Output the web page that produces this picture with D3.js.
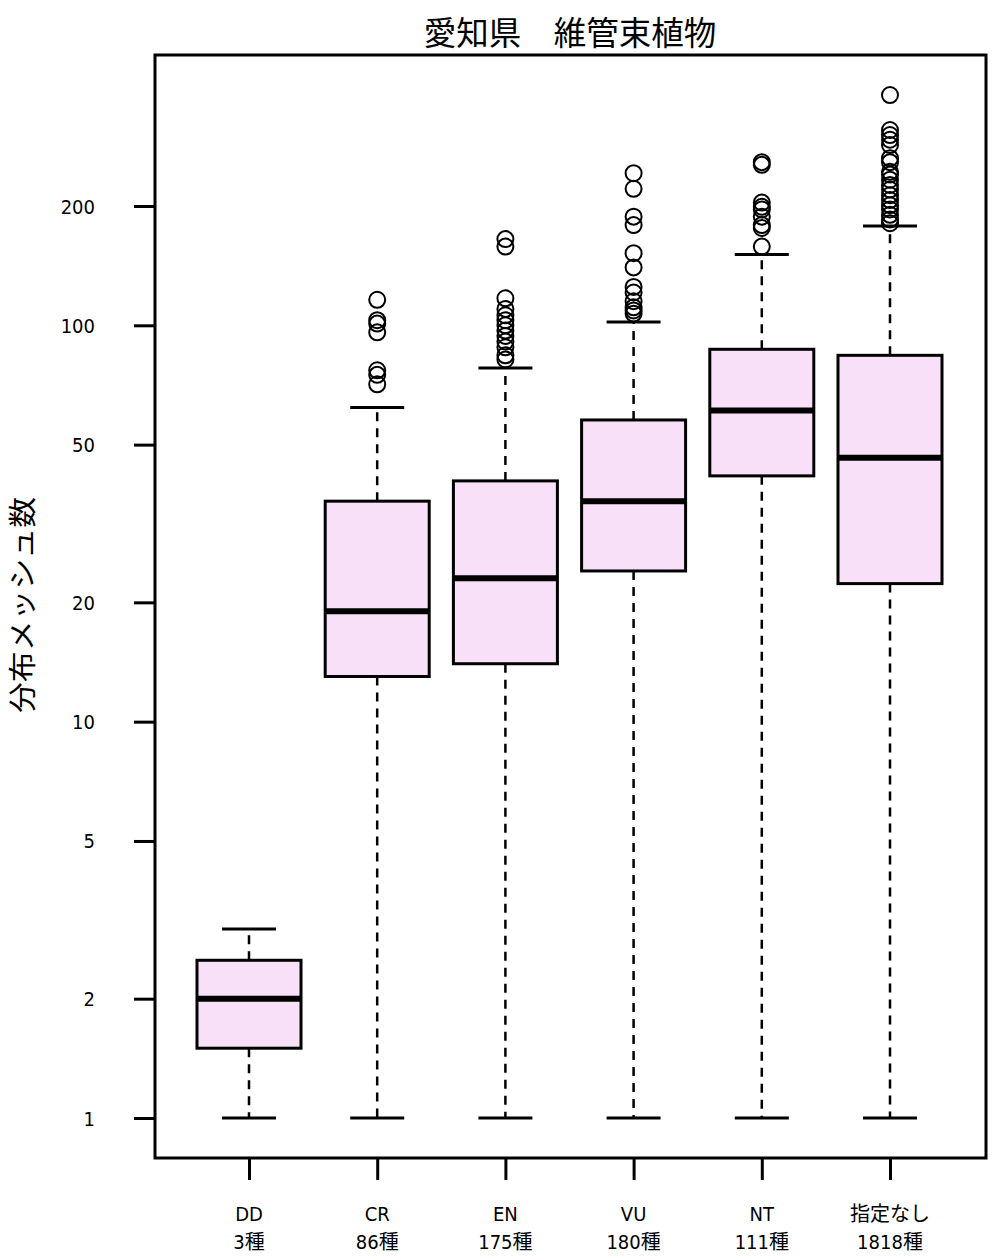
<!DOCTYPE html>
<html><head><meta charset="utf-8">
<script src="https://cdn.jsdelivr.net/npm/d3@7"></script>
<style>
body{margin:0;background:#fff;}
svg{display:block;}
text{fill:#000;}
</style></head>
<body>
<svg id="chart" width="1002" height="1260"></svg>
<script>
const title = "愛知県　維管束植物";
const yLabel = "分布メッシュ数";
const categories = ["DD","CR","EN","VU","NT","指定なし"];
const speciesCounts = ["3種","86種","175種","180種","111種","1818種"];
const whiskerLow = [1, 1, 1, 1, 1, 1];
const q1 = [1.5, 13, 14, 24, 41.7, 22.3];
const medians = [2, 19, 23, 36, 61, 46.3];
const q3 = [2.5, 36, 40.5, 57.7, 87, 84];
const whiskerHigh = [3, 62, 78, 102, 151, 178];
const outliersDD = [];
const outliersCR = [116, 103, 101, 96, 77, 75, 71];
const outliersEN = [165, 158, 117, 110, 106, 103, 100, 97, 94, 91, 88, 84, 82];
const outliersVU = [242, 221, 188, 179, 152, 140, 125, 121, 115, 111, 109, 107];
const outliersNT = [258, 254, 204, 199, 196, 188, 179, 176, 158];
const outliersNone = [381, 311, 302, 294, 285, 264, 258, 244, 240, 233, 226, 220, 213, 207, 201, 196, 190, 185, 181];
const outliers = [outliersDD, outliersCR, outliersEN, outliersVU, outliersNT, outliersNone];
const yTicks = [1, 2, 5, 10, 20, 50, 100, 200];

const svg = d3.select("#chart");
const frame = {left:155, right:986, top:55, bottom:1158};

const x = d3.scalePoint().domain(categories).range([249, 890]);
const y = d3.scaleLog().domain([1, 200]).range([1118, 206]);
const boxW = 104, capW = 54;
const numFont = "'DejaVu Sans Condensed','Noto Sans CJK JP',sans-serif";
const cjkFont = "'Noto Sans CJK JP',sans-serif";

// boxes
categories.forEach((c, i) => {
  const cx = x(c);
  const g = svg.append("g");
  g.append("line").attr("x1", cx).attr("x2", cx).attr("y1", y(q1[i])).attr("y2", y(whiskerLow[i]))
    .attr("stroke", "#000").attr("stroke-width", 2.5).attr("stroke-dasharray", "9,7");
  g.append("line").attr("x1", cx).attr("x2", cx).attr("y1", y(q3[i])).attr("y2", y(whiskerHigh[i]))
    .attr("stroke", "#000").attr("stroke-width", 2.5).attr("stroke-dasharray", "9,7");
  [whiskerLow[i], whiskerHigh[i]].forEach(v => {
    g.append("line").attr("x1", cx - capW/2).attr("x2", cx + capW/2).attr("y1", y(v)).attr("y2", y(v))
      .attr("stroke", "#000").attr("stroke-width", 3);
  });
  g.append("rect").attr("x", cx - boxW/2).attr("width", boxW)
    .attr("y", y(q3[i])).attr("height", y(q1[i]) - y(q3[i]))
    .attr("fill", "#f8e1f8").attr("stroke", "#000").attr("stroke-width", 3);
  g.append("line").attr("x1", cx - boxW/2).attr("x2", cx + boxW/2).attr("y1", y(medians[i])).attr("y2", y(medians[i]))
    .attr("stroke", "#000").attr("stroke-width", 6);
  g.selectAll("circle").data(outliers[i]).enter().append("circle")
    .attr("cx", cx).attr("cy", d => y(d)).attr("r", 8)
    .attr("fill", "none").attr("stroke", "#000").attr("stroke-width", 2);
});

// frame
svg.append("rect").attr("x", frame.left).attr("y", frame.top)
  .attr("width", frame.right - frame.left).attr("height", frame.bottom - frame.top)
  .attr("fill", "none").attr("stroke", "#000").attr("stroke-width", 3);

// y axis
const yAxis = d3.axisLeft(y).tickValues(yTicks).tickFormat(d3.format("d")).tickSize(21).tickPadding(39);
const ya = svg.append("g").attr("transform", `translate(${frame.left},0)`).call(yAxis);
ya.select(".domain").remove();
ya.selectAll(".tick line").attr("stroke", "#000").attr("stroke-width", 3);
ya.selectAll(".tick text").attr("font-family", numFont).attr("font-size", 20).attr("fill", "#000").attr("dy", "0.35em");

// x axis
const xAxis = d3.axisBottom(x).tickSize(22).tickFormat("");
const xa = svg.append("g").attr("transform", `translate(0,${frame.bottom})`).call(xAxis);
xa.select(".domain").remove();
xa.selectAll(".tick line").attr("stroke", "#000").attr("stroke-width", 3);
categories.forEach((c, i) => {
  svg.append("text").attr("x", x(c)).attr("y", 1221).attr("text-anchor", "middle")
    .attr("font-family", numFont).attr("font-size", 20).text(c);
  svg.append("text").attr("x", x(c)).attr("y", 1249).attr("text-anchor", "middle")
    .attr("font-family", numFont).attr("font-size", 20).text(speciesCounts[i]);
});

// title
svg.append("text").attr("x", 570).attr("y", 45).attr("text-anchor", "middle")
  .attr("font-family", cjkFont).attr("font-size", 32.5).text(title);

// y label
svg.append("text").attr("transform", "translate(21,605) rotate(-90)").attr("text-anchor", "middle")
  .attr("dominant-baseline", "central")
  .attr("textLength", 216).attr("lengthAdjust", "spacingAndGlyphs")
  .attr("font-family", cjkFont).attr("font-size", 28).text(yLabel);
</script>
</body></html>
